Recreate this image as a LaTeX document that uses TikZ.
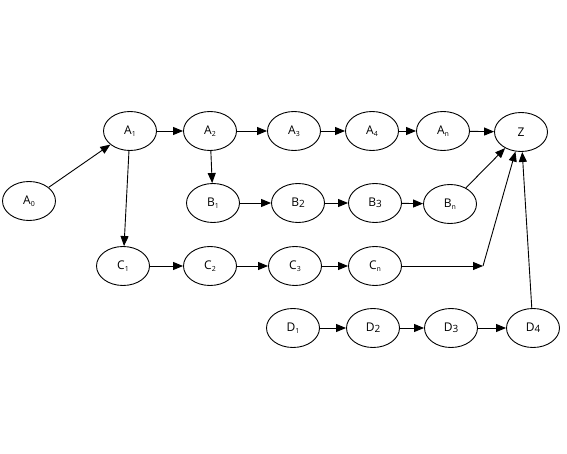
\documentclass[tikz,border=0pt]{standalone}
\usepackage{fontspec}
\setmainfont{Open Sans}
\usetikzlibrary{shapes.geometric,arrows.meta}
\newcommand{\mysb}[1]{\raisebox{-0.25ex}{\fontsize{7}{8}\selectfont #1}}
\newcommand{\mybsb}[1]{\raisebox{-0.15ex}{\fontsize{10}{11}\selectfont #1}}
\begin{document}
\begin{tikzpicture}[x=1pt,y=-1pt,
  st/.style={ellipse,draw,line width=0.9pt,minimum width=53pt,minimum height=39pt,inner sep=0pt,font=\fontsize{12}{14}\selectfont},
  ar/.style={-{Triangle[length=10pt,width=8pt]},line width=0.9pt}]
\useasboundingbox (0,0) rectangle (567,454);
\node[st] (A0) at (29,201) {A\mysb{0}};
\node[st] (A1) at (130,131) {A\mysb{1}};
\node[st] (A2) at (210,131) {A\mysb{2}};
\node[st] (A3) at (294,131) {A\mysb{3}};
\node[st] (A4) at (372,131) {A\mysb{4}};
\node[st] (An) at (443,131) {A\mysb{n}};
\node[st] (Z) at (521,132) {Z};
\node[st] (B1) at (213,203) {B\mysb{1}};
\node[st] (B2) at (298,203) {B\mybsb{2}};
\node[st] (B3) at (375,203) {B\mybsb{3}};
\node[st] (Bn) at (450,204) {B\mysb{n}};
\node[st] (C1) at (123,266) {C\mysb{1}};
\node[st] (C2) at (210,266) {C\mysb{2}};
\node[st] (C3) at (295,266) {C\mysb{3}};
\node[st] (Cn) at (375,266) {C\mysb{n}};
\node[st] (D1) at (293,328) {D\mysb{1}};
\node[st] (D2) at (373,328) {D\mybsb{2}};
\node[st] (D3) at (451,328) {D\mybsb{3}};
\node[st] (D4) at (533,328) {D\mybsb{4}};
\coordinate (k) at (483,266);
\draw[ar] (A0) -- (A1);
\draw[ar] (A1) -- (A2);
\draw[ar] (A2) -- (A3);
\draw[ar] (A3) -- (A4);
\draw[ar] (A4) -- (An);
\draw[ar] (An) -- (Z);
\draw[ar] (A1) -- (C1);
\draw[ar] (A2) -- (B1);
\draw[ar] (B1) -- (B2);
\draw[ar] (B2) -- (B3);
\draw[ar] (B3) -- (Bn);
\draw[ar] (Bn) -- (Z);
\draw[ar] (C1) -- (C2);
\draw[ar] (C2) -- (C3);
\draw[ar] (C3) -- (Cn);
\draw[ar] (Cn) -- (k);
\draw[ar] (k) -- (Z);
\draw[ar] (D1) -- (D2);
\draw[ar] (D2) -- (D3);
\draw[ar] (D3) -- (D4);
\draw[ar] (D4) -- (Z);
\end{tikzpicture}
\end{document}
